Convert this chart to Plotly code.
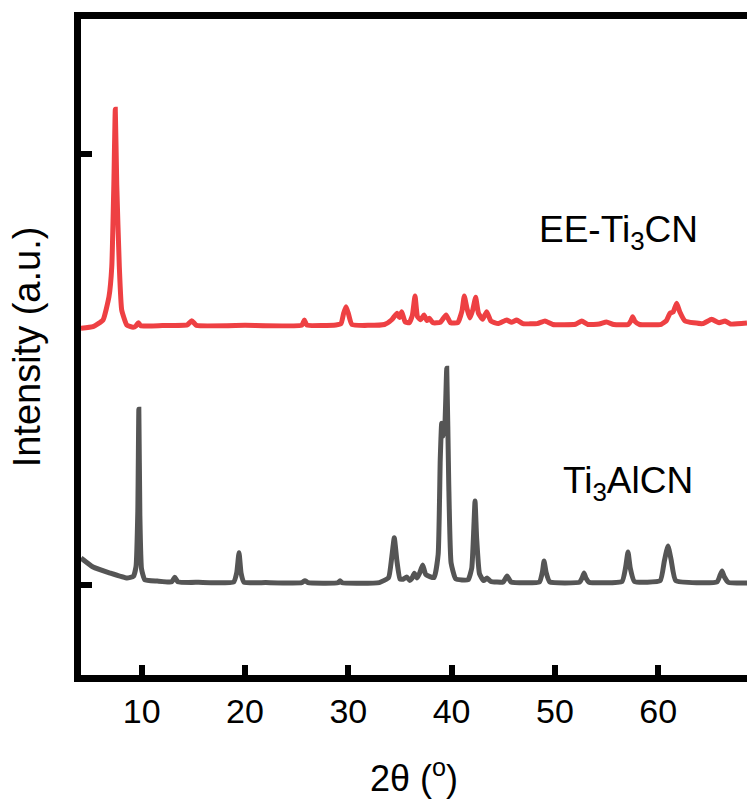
import plotly.graph_objects as go

# XRD patterns, vertices of each trace: 2θ (deg) and intensity (counts)
ti3alcn_2theta = [4.12, 5.29, 6.93, 8.58, 9.2, 9.45, 9.62, 9.72, 9.82, 9.98, 10.3, 11.5,
                  12.9, 13.2, 13.5, 15.5, 18.9, 19.2, 19.42, 19.62, 19.9, 22.0, 25.5, 25.8,
                  26.1, 29.0, 29.2, 29.4, 33.0, 33.9, 34.2, 34.45, 34.7, 35.0, 35.3, 35.65,
                  35.95, 36.15, 36.39, 36.65, 36.9, 37.2, 37.5, 38.3, 38.7, 38.9, 39.04, 39.2,
                  39.35, 39.53, 39.72, 39.95, 40.4, 41.6, 41.95, 42.15, 42.27, 42.42, 42.7,
                  43.1, 43.43, 43.8, 45.0, 45.37, 45.75, 48.5, 48.8, 48.95, 49.15, 49.5, 52.4,
                  52.65, 52.82, 53.0, 53.3, 56.5, 56.85, 57.08, 57.3, 57.7, 60.2, 60.6, 60.95,
                  61.25, 61.7, 65.7, 66.0, 66.18, 66.4, 66.8, 68.6]
ti3alcn_counts = [615, 406, 267, 151, 190, 420, 1700, 4070, 1600, 360, 110, 80,
                  62, 167, 62, 50, 60, 280, 739, 260, 55, 45, 42, 90,
                  42, 40, 85, 40, 45, 160, 620, 1088, 560, 130, 120, 174,
                  95, 140, 260, 150, 260, 453, 230, 160, 700, 2900, 3745, 3450,
                  3700, 5022, 2400, 500, 130, 110, 380, 1300, 1940, 1100, 250,
                  90, 151, 70, 60, 197, 60, 60, 300, 546, 280, 60, 55,
                  160, 267, 150, 55, 70, 400, 755, 380, 70, 90, 550, 894,
                  580, 90, 60, 220, 314, 180, 50, 35]

ee_ti3cn_2theta = [4.12, 5.29, 6.25, 6.83, 7.10, 7.30, 7.44, 7.58, 7.83, 8.06, 8.55, 9.16,
                   9.45, 9.67, 9.9, 12.0, 14.4, 14.84, 15.3, 20.0, 25.5, 25.74, 26.0, 28.8,
                   29.3, 29.55, 29.78, 30.0, 30.35, 33.5, 34.2, 34.72, 34.95, 35.17, 35.5,
                   35.9, 36.2, 36.46, 36.7, 37.0, 37.33, 37.6, 37.84, 38.2, 38.9, 39.46,
                   39.9, 40.6, 41.0, 41.23, 41.5, 41.78, 42.05, 42.33, 42.6, 43.0, 43.4,
                   43.8, 44.5, 45.33, 45.8, 46.3, 46.9, 48.3, 49.04, 49.8, 52.0, 52.6, 53.2,
                   54.3, 55.0, 55.7, 57.1, 57.35, 57.53, 57.75, 58.2, 60.3, 60.8, 61.14,
                   61.45, 61.79, 62.1, 62.6, 64.3, 65.18, 65.9, 66.47, 67.0, 68.6]
ee_ti3cn_counts = [-48, -11, 144, 686, 1383, 3300, 5040, 3300, 1383, 377, 28, -25,
                   10, 82, 10, 15, 30, 128, 20, 20, 25, 144, 25, 30,
                   60, 300, 453, 300, 40, 40, 150, 300, 200, 337, 100,
                   80, 250, 702, 220, 150, 260, 130, 183, 80, 90, 260,
                   80, 80, 350, 702, 400, 190, 380, 672, 300, 160, 337,
                   120, 60, 144, 90, 144, 60, 60, 121, 40, 45, 121, 40,
                   50, 98, 40, 40, 120, 221, 110, 40, 45, 130, 300,
                   330, 532, 330, 120, 60, 160, 80, 121, 50, 75]

# vertical shift of the upper pattern (stacked plot)
ee_offset = 6000

x_ticks = [10, 20, 30, 40, 50, 60]
y_ticks = [0, 10000]

font_family = "Arial, Liberation Sans, sans-serif"
red = "#EE4043"
gray = "#555555"

fig = go.Figure()
fig.add_trace(go.Scatter(
    x=ti3alcn_2theta, y=ti3alcn_counts, mode="lines",
    line=dict(color=gray, width=5, shape="spline", smoothing=0.4), showlegend=False,
))
fig.add_trace(go.Scatter(
    x=ee_ti3cn_2theta, y=[v + ee_offset for v in ee_ti3cn_counts], mode="lines",
    line=dict(color=red, width=5, shape="spline", smoothing=0.4), showlegend=False,
))

fig.add_annotation(x=56.2, y=8190, xref="x", yref="y", text="EE-Ti<sub>3</sub>CN",
                   showarrow=False, font=dict(family=font_family, size=37, color="black"))
fig.add_annotation(x=57.1, y=2360, xref="x", yref="y", text="Ti<sub>3</sub>AlCN",
                   showarrow=False, font=dict(family=font_family, size=37, color="black"))

fig.update_layout(
    width=747, height=803,
    margin=dict(l=81, r=0, t=19, b=128),
    paper_bgcolor="white", plot_bgcolor="white",
    font=dict(family=font_family, color="black"),
    xaxis=dict(
        range=[4.12, 68.6], tickvals=x_ticks, ticktext=[str(v) for v in x_ticks],
        ticks="inside", ticklen=10, tickwidth=6, tickcolor="black",
        showline=True, linewidth=7, linecolor="black", mirror=True,
        showgrid=False, zeroline=False,
        tickfont=dict(size=34),
        title=dict(text="2θ (<sup>o</sup>)", font=dict(size=36), standoff=40),
    ),
    yaxis=dict(
        range=[-2102, 13136], tickvals=y_ticks, showticklabels=False,
        ticks="inside", ticklen=11, tickwidth=6, tickcolor="black",
        showline=True, linewidth=7, linecolor="black", mirror=False,
        showgrid=False, zeroline=False,
        title=dict(text="Intensity (a.u.)", font=dict(size=38), standoff=24),
    ),
)

fig.write_html("out.html")
